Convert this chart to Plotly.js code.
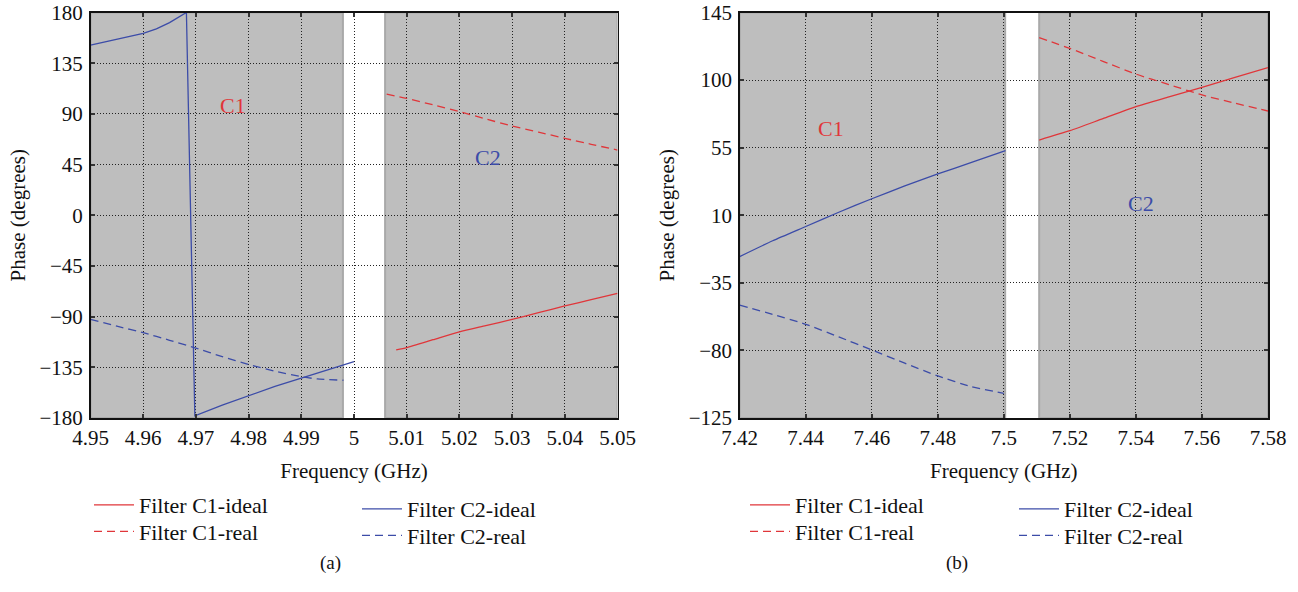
<!DOCTYPE html>
<html>
<head>
<meta charset="utf-8">
<script src="https://cdn.plot.ly/plotly-3.0.1.min.js"></script>
<style>html,body{margin:0;padding:0;background:#fff;}#chart{width:1298px;height:592px;}</style>
</head>
<body>
<div id="chart"></div>
<script>
// ---- Panel (a) data ----
const aC1IdealX = [5.008, 5.01, 5.015, 5.02, 5.025, 5.03, 5.035, 5.04, 5.045, 5.05];
const aC1IdealY = [-119.5, -117.5, -110.5, -103.5, -98, -92.5, -86.5, -80.5, -75, -69.3];
const aC1RealX = [5.0062, 5.01, 5.015, 5.02, 5.025, 5.03, 5.035, 5.04, 5.045, 5.05];
const aC1RealY = [107.5, 103.8, 98, 92, 85.5, 79.2, 73.8, 68.3, 63, 57.9];
const aC2IdealX = [4.95, 4.9525, 4.955, 4.9575, 4.96, 4.9625, 4.965, 4.9682, 4.9698, 4.975, 4.98, 4.985, 4.99, 4.995, 5.0];
const aC2IdealY = [151, 153.5, 156, 158.7, 161.5, 165.5, 171, 180, -178, -168.5, -160, -152, -144.5, -137, -130];
const aC2RealX = [4.95, 4.955, 4.96, 4.965, 4.97, 4.975, 4.98, 4.985, 4.99, 4.993, 4.998];
const aC2RealY = [-92.4, -98.5, -104.3, -111, -118, -125.5, -132.5, -138.5, -143.3, -145.3, -146.5];

// ---- Panel (b) data ----
const bC1IdealX = [7.5107, 7.52, 7.53, 7.54, 7.55, 7.56, 7.57, 7.58];
const bC1IdealY = [60.1, 66.3, 74.3, 82.3, 88.8, 95.2, 101.8, 108.3];
const bC1RealX = [7.5107, 7.52, 7.53, 7.54, 7.55, 7.56, 7.57, 7.58];
const bC1RealY = [128.2, 121.1, 112.5, 104, 97, 90.1, 84.6, 79.4];
const bC2IdealX = [7.42, 7.43, 7.44, 7.45, 7.46, 7.47, 7.48, 7.49, 7.5005];
const bC2IdealY = [-17.5, -7, 2.5, 12, 21, 29.5, 37.5, 45, 53];
const bC2RealX = [7.42, 7.43, 7.44, 7.45, 7.46, 7.47, 7.48, 7.49, 7.5];
const bC2RealY = [-49.8, -56, -62.6, -71, -79.7, -88.5, -97, -104, -108.6];

// band limits (gray regions) and labels
const aBands = [[4.95, 4.9979], [5.0059, 5.05]];
const bBands = [[7.42, 7.5004], [7.5107, 7.58]];
const aRange = [4.95, 5.05], aYRange = [-180, 180];
const bRange = [7.42, 7.58], bYRange = [-125, 145];
const names = ['Filter C1-ideal', 'Filter C1-real', 'Filter C2-ideal', 'Filter C2-real'];

const RED = '#e0363a', BLUE = '#3c4ca8';
const FONT = 'Liberation Serif';

function tr(x, y, name, color, dash, xa, ya, leg) {
  return {x: x, y: y, name: name, type: 'scatter', mode: 'lines', xaxis: xa, yaxis: ya,
    legend: leg, line: {color: color, width: 1.3, dash: dash, shape: 'spline', smoothing: 0.6}};
}
const data = [
  tr(aC1IdealX, aC1IdealY, names[0], RED, 'solid', 'x', 'y', 'legend'),
  tr(aC1RealX, aC1RealY, names[1], RED, '8px,5px', 'x', 'y', 'legend2'),
  tr(aC2IdealX, aC2IdealY, names[2], BLUE, 'solid', 'x', 'y', 'legend3'),
  tr(aC2RealX, aC2RealY, names[3], BLUE, '8px,5px', 'x', 'y', 'legend4'),
  tr(bC1IdealX, bC1IdealY, names[0], RED, 'solid', 'x2', 'y2', 'legend5'),
  tr(bC1RealX, bC1RealY, names[1], RED, '8px,5px', 'x2', 'y2', 'legend6'),
  tr(bC2IdealX, bC2IdealY, names[2], BLUE, 'solid', 'x2', 'y2', 'legend7'),
  tr(bC2RealX, bC2RealY, names[3], BLUE, '8px,5px', 'x2', 'y2', 'legend8')
];
// the phase-wrap segment must stay straight
data[2].line.shape = 'linear';

function xax(domain, range, dtick, anchor) {
  return {domain: domain, range: range, dtick: dtick, tick0: range[0], anchor: anchor,
    showgrid: true, gridcolor: '#222', gridwidth: 1, griddash: '1px,2px',
    zeroline: false, showline: true, linecolor: '#111', linewidth: 1.5, mirror: 'ticks',
    ticks: 'inside', ticklen: 4, tickcolor: '#333', tickwidth: 2,
    tickfont: {family: FONT, size: 21, color: '#111'},
    title: {text: 'Frequency (GHz)', font: {family: FONT, size: 21, color: '#111'}, standoff: 14}};
}
function yax(domain, range, dtick, anchor) {
  return {domain: domain, range: range, dtick: dtick, tick0: range[0], anchor: anchor,
    showgrid: true, gridcolor: '#222', gridwidth: 1, griddash: '1px,2px',
    zeroline: false, showline: true, linecolor: '#111', linewidth: 1.5, mirror: 'ticks',
    ticks: 'inside', ticklen: 4, tickcolor: '#333', tickwidth: 2,
    tickfont: {family: FONT, size: 21, color: '#111'}, ticklabelstandoff: 2,
    title: {text: 'Phase (degrees)', font: {family: FONT, size: 21, color: '#111'}, standoff: 8}};
}
const ydom = [1 - 418 / 592, 1 - 12.5 / 592];

const shapes = [];
function band(b, xr, yr, yrange) {
  shapes.push({type: 'rect', xref: xr, yref: yr, x0: b[0], x1: b[1], y0: yrange[0], y1: yrange[1],
    fillcolor: '#bebebe', line: {color: '#a9a9a9', width: 2}, layer: 'below'});
}
aBands.forEach(b => band(b, 'x', 'y', aYRange));
bBands.forEach(b => band(b, 'x2', 'y2', bYRange));

function lab(text, x, y, xr, yr, color) {
  return {text: text, x: x, y: y, xref: xr, yref: yr, showarrow: false,
    font: {family: FONT, size: 22, color: color}};
}
const annotations = [
  lab('C1', 4.9771, 97, 'x', 'y', RED),
  lab('C2', 5.0254, 51.4, 'x', 'y', BLUE),
  lab('C1', 7.4475, 67.9, 'x2', 'y2', RED),
  lab('C2', 7.5416, 17.5, 'x2', 'y2', BLUE),
  {text: '(a)', x: 318 / 1298, y: 1 - 576 / 592, xref: 'paper', yref: 'paper', showarrow: false,
    font: {family: FONT, size: 19, color: '#111'}},
  {text: '(b)', x: 970 / 1298, y: 1 - 576 / 592, xref: 'paper', yref: 'paper', showarrow: false,
    font: {family: FONT, size: 19, color: '#111'}}
];

function leg(xpx, ypx) {
  return {x: xpx / 1298, y: 1 - ypx / 592, xanchor: 'left', yanchor: 'middle', bgcolor: 'rgba(0,0,0,0)',
    font: {family: FONT, size: 22, color: '#111'}, itemwidth: 40, tracegroupgap: 0};
}

const layout = {
  width: 1298, height: 592,
  margin: {l: 0, r: 0, t: 0, b: 0},
  font: {family: FONT, size: 21, color: '#111'},
  paper_bgcolor: '#fff', plot_bgcolor: '#fff',
  xaxis: xax([90.5 / 1298, 617.5 / 1298], aRange, 0.01, 'y'),
  yaxis: yax(ydom, aYRange, 45, 'x'),
  xaxis2: xax([739.7 / 1298, 1268 / 1298], bRange, 0.02, 'y2'),
  yaxis2: yax(ydom, bYRange, 45, 'x2'),
  shapes: shapes,
  annotations: annotations,
  legend: leg(89, 505),
  legend2: leg(89, 531.5),
  legend3: leg(357, 509),
  legend4: leg(357, 535.5),
  legend5: leg(745, 505),
  legend6: leg(745, 531.5),
  legend7: leg(1014, 509),
  legend8: leg(1014, 535.5),
  showlegend: true
};

Plotly.newPlot('chart', data, layout, {displayModeBar: false, staticPlot: true});
</script>
</body>
</html>
